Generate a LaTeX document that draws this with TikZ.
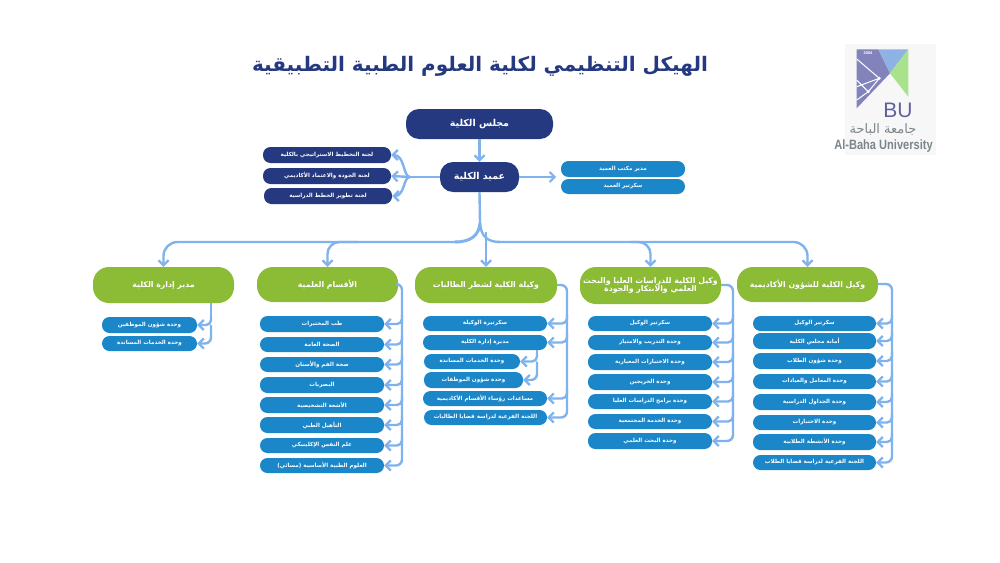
\documentclass[tikz,border=0pt]{standalone}
\usepackage{fontspec}
\usetikzlibrary{arrows.meta,calc}
\TeXXeTstate=1
\newfontfamily\arabicfont[Script=Arabic]{DejaVu Sans}
\setsansfont{Liberation Sans}
\newcommand\arr[1]{\beginR #1\endR}
\newcommand\fsz[1]{\fontsize{#1}{#1}\selectfont}
\definecolor{navy}{HTML}{24397F}
\definecolor{midblue}{HTML}{1B87C9}
\definecolor{leaf}{HTML}{8CBB35}
\definecolor{wire}{HTML}{80B3EE}
\definecolor{logotxt}{HTML}{7B868C}
\tikzset{
 basepill/.style={draw=none,inner sep=0pt,text=white,align=center,font=\arabicfont\bfseries},
 councilbox/.style={basepill,fill=navy,rounded corners=13pt,font=\arabicfont\bfseries\fsz{9.5}},
 commbox/.style={basepill,fill=navy,rounded corners=7.5pt,font=\arabicfont\bfseries\fsz{5.6}},
 unitbox/.style={basepill,fill=midblue,rounded corners=7.5pt,font=\arabicfont\bfseries\fsz{5.6}},
 headbox/.style={basepill,fill=leaf,rounded corners=16pt,font=\arabicfont\bfseries\fsz{7.8}},
 conn/.style={draw=wire,line width=2.4pt,-{Straight Barb[length=5pt,width=10pt,line width=2.2pt]}},
 wirepath/.style={draw=wire,line width=2.4pt},
}
\newcommand\pill[7]{%
 \pgfmathsetmacro\pw{#5-#3}\pgfmathsetmacro\ph{#6-#4}%
 \pgfmathsetmacro\pcx{(#3+#5)/2}\pgfmathsetmacro\pcy{(#4+#6)/2}%
 \node[#1,minimum width=\pw pt,minimum height=\ph pt] (#2) at (\pcx,\pcy) {#7};}
% branch from a rail into a child, arriving from the right
\newcommand\branch[2]{\draw[conn,rounded corners=5pt] ($(#1 |- #2.east)+(0,-9)$) -- (#1 |- #2.east) -- (#2.east);}
\begin{document}
\begin{tikzpicture}[x=1pt,y=-1pt]
\useasboundingbox (0,0) rectangle (1000,562);
\fill[white] (0,0) rectangle (1000,562);
% title
\node[text=navy,font=\arabicfont\bfseries\fsz{20}] (title) at (480,66) {\arr{الهيكل التنظيمي لكلية العلوم الطبية التطبيقية}};
% logo
\fill[fill=black!3] (845,44) rectangle (936,155);
\fill[fill=blue!30!gray!75!white] (856.7,49.3) -- (878.3,49.3) -- (890,73.3) -- (856.7,108.3) -- cycle;
\fill[fill=cyan!55!blue!45!white] (878.3,49.3) -- (908.3,49.3) -- (890,73.3) -- cycle;
\fill[fill=green!50!olive!45!white] (908.3,49.3) -- (908.3,96.7) -- (890,73.3) -- cycle;
\draw[white,line width=1pt] (856.7,59) -- (879.3,78.3) -- (856.7,86.7) (879.3,78.3) -- (868.3,91.7) -- (856.7,80) (868.3,91.7) -- (856.7,100);
\fill[white] (879.3,78.3) circle (1.6) (868.3,91.7) circle (1.6);
\node[text=white,font=\sffamily\bfseries\fsz{4}] (logoyear) at (868,53.5) {2004};
\node[text=blue!25!gray,font=\sffamily\fsz{21}] (logobu) at (898,110) {BU};
\node[text=logotxt,font=\arabicfont\fsz{13}] (logoar) at (883,130) {\arr{جامعة الباحة}};
\node[text=logotxt,font=\sffamily\bfseries\fsz{13.5},xscale=0.82,transform shape] (logoen) at (883.5,146.5) {Al-Baha University};
% top nodes
\pill{councilbox}{council}{406}{109}{553}{139}{\arr{مجلس الكلية}}
\pill{councilbox}{dean}{440}{162}{519}{192}{\arr{عميد الكلية}}
\pill{commbox}{comA}{263}{147}{391}{163}{\arr{لجنة التخطيط الاستراتيجي بالكلية}}
\pill{commbox}{comB}{263}{168}{391}{184}{\arr{لجنة الجودة والاعتماد الأكاديمي}}
\pill{commbox}{comC}{264}{188}{392}{204}{\arr{لجنة تطوير الخطط الدراسية}}
\pill{unitbox}{offA}{561}{161}{685}{177}{\arr{مدير مكتب العميد}}
\pill{unitbox}{offB}{561}{179}{685}{194}{\arr{سكرتير العميد}}
% heads
\pill{headbox}{mgr}{93}{267}{234}{303}{\arr{مدير إدارة الكلية}}
\pill{headbox}{dept}{257}{267}{398}{302}{\arr{الأقسام العلمية}}
\pill{headbox}{women}{415}{267}{557}{303}{\arr{وكيلة الكلية لشطر الطالبات}}
\pill{headbox}{grad}{580}{267}{721}{304}{\arr{وكيل الكلية للدراسات العليا والبحث}\\\arr{العلمي والابتكار والجودة}}
\pill{headbox}{acad}{737}{267}{878}{302}{\arr{وكيل الكلية للشؤون الأكاديمية}}
% manager units
\pill{unitbox}{mA}{102}{317}{197}{333}{\arr{وحدة شؤون الموظفين}}
\pill{unitbox}{mB}{102}{336}{197}{351}{\arr{وحدة الخدمات المساندة}}
% departments
\pill{unitbox}{dA}{260}{316}{384}{332}{\arr{طب المختبرات}}
\pill{unitbox}{dB}{260}{337}{384}{352}{\arr{الصحة العامة}}
\pill{unitbox}{dC}{260}{357}{384}{372}{\arr{صحة الفم والأسنان}}
\pill{unitbox}{dD}{260}{377}{384}{393}{\arr{البصريات}}
\pill{unitbox}{dE}{260}{397}{384}{413}{\arr{الأشعة التشخيصية}}
\pill{unitbox}{dF}{260}{417}{384}{433}{\arr{التأهيل الطبي}}
\pill{unitbox}{dG}{260}{438}{384}{453}{\arr{علم النفس الإكلينيكي}}
\pill{unitbox}{dH}{260}{458}{384}{473}{\arr{العلوم الطبية الأساسية (مسائي)}}
% women
\pill{unitbox}{wA}{423}{316}{547}{331}{\arr{سكرتيرة الوكيلة}}
\pill{unitbox}{wB}{423}{335}{547}{350}{\arr{مديرة إدارة الكلية}}
\pill{unitbox}{wC}{424}{354}{520}{369}{\arr{وحدة الخدمات المساندة}}
\pill{unitbox}{wD}{424}{372}{523}{388}{\arr{وحدة شؤون الموظفات}}
\pill{unitbox}{wE}{423}{391}{547}{406}{\arr{مساعدات رؤساء الأقسام الأكاديمية}}
\pill{unitbox}{wF}{424}{410}{547}{425}{\arr{اللجنة الفرعية لدراسة قضايا الطالبات}}
% graduate
\pill{unitbox}{gA}{588}{316}{712}{331}{\arr{سكرتير الوكيل}}
\pill{unitbox}{gB}{588}{335}{712}{350}{\arr{وحدة التدريب والامتياز}}
\pill{unitbox}{gC}{588}{354}{712}{370}{\arr{وحدة الاختبارات المعيارية}}
\pill{unitbox}{gD}{588}{374}{712}{390}{\arr{وحدة الخريجين}}
\pill{unitbox}{gE}{588}{394}{712}{409}{\arr{وحدة برامج الدراسات العليا}}
\pill{unitbox}{gF}{588}{414}{712}{429}{\arr{وحدة الخدمة المجتمعية}}
\pill{unitbox}{gG}{588}{433}{712}{449}{\arr{وحدة البحث العلمي}}
% academic
\pill{unitbox}{aA}{753}{316}{876}{331}{\arr{سكرتير الوكيل}}
\pill{unitbox}{aB}{753}{333}{876}{349}{\arr{أمانة مجلس الكلية}}
\pill{unitbox}{aC}{753}{353}{876}{369}{\arr{وحدة شؤون الطلاب}}
\pill{unitbox}{aD}{753}{374}{876}{389}{\arr{وحدة المعامل والعيادات}}
\pill{unitbox}{aE}{753}{394}{876}{410}{\arr{وحدة الجداول الدراسية}}
\pill{unitbox}{aF}{753}{415}{876}{430}{\arr{وحدة الاختبارات}}
\pill{unitbox}{aG}{753}{434}{876}{450}{\arr{وحدة الأنشطة الطلابية}}
\pill{unitbox}{aH}{753}{455}{876}{470}{\arr{اللجنة الفرعية لدراسة قضايا الطلاب}}
% top connectors
\draw[conn] (council) -- (dean);
\draw[conn] (dean.east) -- ++(37,0) coordinate (offtip);
\coordinate (comhub) at (410,177);
\draw[wirepath] (dean.west) -- (comhub);
\draw[conn] (comhub) -- (comB.east);
\draw[conn] (comhub) .. controls (403,177) and (405,155) .. (comA.east);
\draw[conn] (comhub) .. controls (403,177) and (405,196) .. (comC.east);
% tree
\coordinate (hub) at (480,223);
\coordinate (bus) at (480,242);
\draw[wirepath] (dean.south) -- (hub);
\draw[wirepath,line width=3pt] (hub) .. controls (479,236) and (470,242) .. (455,242);
\draw[wirepath] (hub) .. controls (481,236) and (487,242) .. (500,242);
\draw[conn,rounded corners=14pt] (458,242) -- (bus -| mgr.north) -- (mgr.north);
\draw[conn,rounded corners=12pt] ($(bus -| dept.north)+(30,0)$) -- (bus -| dept.north) -- (dept.north);
\draw[conn] (bus -| women.north) ++(0,-10) -- (women.north);
\draw[conn,rounded corners=12pt] ($(bus -| grad.north)+(-20,0)$) -- (bus -| grad.north) -- (grad.north);
\draw[conn,rounded corners=14pt] (497,242) -- (bus -| acad.north) -- (acad.north);
% manager rail
\coordinate (railM) at (211,303);
\draw[wirepath] (railM) -- ($(railM |- mA.east)+(0,-9)$);
\branch{railM}{mA}
\draw[conn,rounded corners=6pt] (railM |- mA.east) -- (railM |- mB.east) -- (mB.east);
% departments rail
\coordinate (railD) at (402,284);
\draw[conn,rounded corners=6pt] (dept.east |- railD) -- (railD) -- (railD |- dH.east) -- (dH.east);
\foreach \n in {dA,dB,dC,dD,dE,dF,dG}{\branch{railD}{\n}}
% women rail
\coordinate (railW) at (567,285);
\draw[conn,rounded corners=6pt] (women.east |- railW) -- (railW) -- (railW |- wF.east) -- (wF.east);
\foreach \n in {wA,wB,wE}{\branch{railW}{\n}}
\coordinate (railV) at (537,350);
\draw[wirepath] (railV) -- ($(railV |- wC.east)+(0,-9)$);
\branch{railV}{wC}
\draw[conn,rounded corners=6pt] (railV |- wC.east) -- (railV |- wD.east) -- (wD.east);
% graduate rail
\coordinate (railG) at (733,285);
\draw[conn,rounded corners=6pt] (grad.east |- railG) -- (railG) -- (railG |- gG.east) -- (gG.east);
\foreach \n in {gA,gB,gC,gD,gE,gF}{\branch{railG}{\n}}
% academic rail
\coordinate (railA) at (892,284);
\draw[conn,rounded corners=6pt] (acad.east |- railA) -- (railA) -- (railA |- aH.east) -- (aH.east);
\foreach \n in {aA,aB,aC,aD,aE,aF,aG}{\branch{railA}{\n}}
\end{tikzpicture}
\end{document}
